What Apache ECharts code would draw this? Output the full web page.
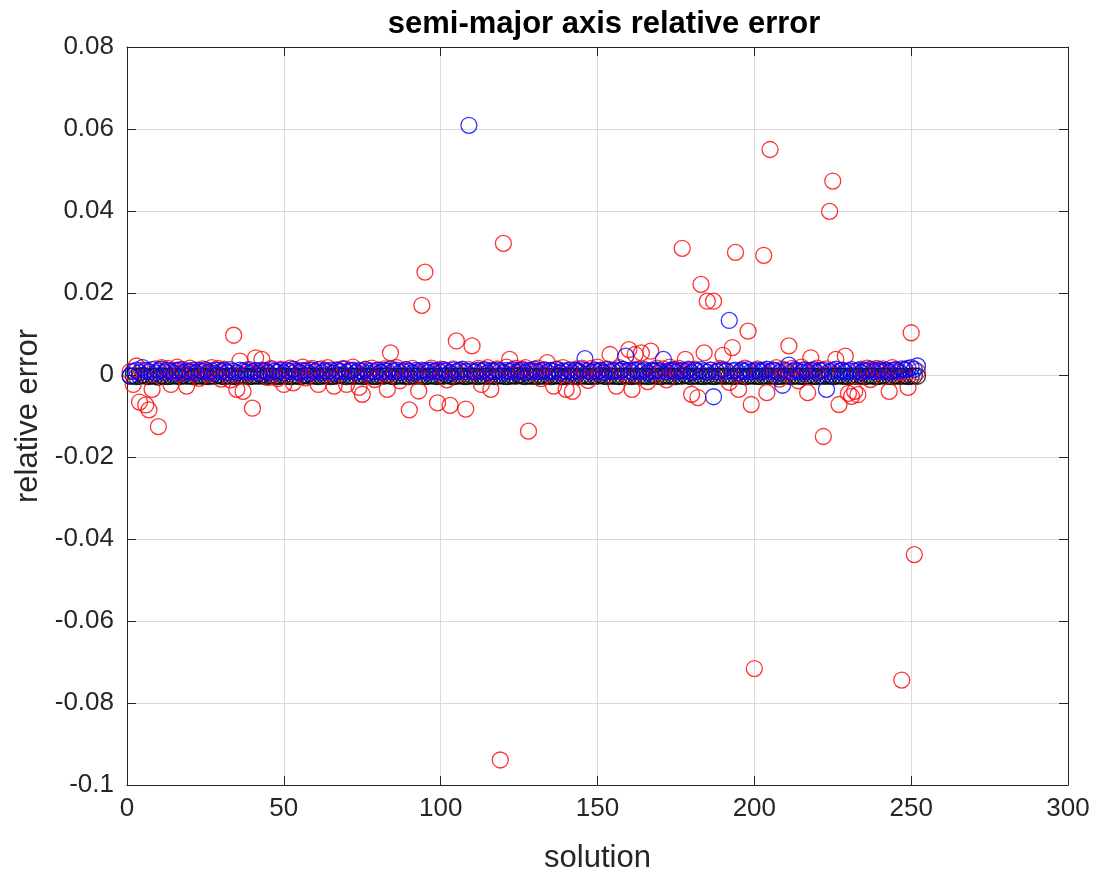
<!DOCTYPE html>
<html>
<head>
<meta charset="utf-8">
<title>semi-major axis relative error</title>
<script src="https://cdn.jsdelivr.net/npm/echarts@6/dist/echarts.min.js"></script>
<style>
  html, body { margin: 0; padding: 0; background: #ffffff; }
  #chart { width: 1101px; height: 874px; }
</style>
</head>
<body>
<div id="chart"></div>
<script>
// Relative error of the semi-major axis for each solution (1..252), three methods.
const redErr = [
  0.0008, -0.0023, 0.0022, -0.0066, 0.0012, -0.0073, -0.0085, -0.0035, 0.0015, -0.0126, 0.0018, 0.0009,
  0.0016, -0.0023, 0.0011, 0.0019, 0.0004, 0.0013, -0.0027, 0.0017, 0.0006, 0.0012, -0.0008, 0.0015,
  0.0010, 0.0003, 0.0018, 0.0012, 0.0016, -0.0010, 0.0014, 0.0007, -0.0012, 0.0097, -0.0035, 0.0034,
  -0.0040, 0.0012, 0.0005, -0.0081, 0.0042, 0.0009, 0.0038, 0.0011, -0.0006, 0.0016, 0.0008, -0.0009,
  0.0014, -0.0023, 0.0010, 0.0017, -0.0019, 0.0012, 0.0006, 0.0019, -0.0007, 0.0013, 0.0016, 0.0009,
  -0.0023, 0.0015, 0.0011, 0.0018, 0.0004, -0.0027, 0.0013, 0.0008, 0.0016, -0.0023, 0.0012, 0.0019,
  0.0007, -0.0030, -0.0047, 0.0014, 0.0010, 0.0017, -0.0011, 0.0012, 0.0006, 0.0015, -0.0035, 0.0054,
  0.0011, 0.0018, -0.0014, 0.0009, 0.0013, -0.0085, 0.0016, 0.0005, -0.0039, 0.0170, 0.0251, 0.0012,
  0.0017, 0.0008, -0.0068, 0.0014, 0.0010, -0.0012, -0.0074, 0.0015, 0.0083, 0.0011, 0.0006, -0.0083,
  0.0013, 0.0071, 0.0009, 0.0016, -0.0023, 0.0012, 0.0018, -0.0035, 0.0010, 0.0015, -0.0939, 0.0321,
  0.0019, 0.0038, 0.0011, 0.0016, 0.0007, 0.0014, 0.0018, -0.0137, 0.0012, 0.0009, 0.0017, -0.0009,
  0.0013, 0.0030, 0.0010, -0.0027, 0.0015, 0.0006, 0.0018, -0.0035, 0.0012, -0.0040, 0.0014, 0.0008,
  0.0017, 0.0011, -0.0013, 0.0016, 0.0009, 0.0019, 0.0012, 0.0005, 0.0015, 0.0050, 0.0010, -0.0027,
  0.0018, 0.0013, 0.0008, 0.0062, -0.0035, 0.0050, 0.0014, 0.0054, 0.0011, -0.0016, 0.0058, 0.0012,
  0.0017, 0.0007, 0.0015, -0.0012, 0.0019, 0.0010, 0.0013, 0.0016, 0.0309, 0.0038, 0.0011, -0.0047,
  0.0014, -0.0055, 0.0221, 0.0054, 0.0180, 0.0012, 0.0180, 0.0009, 0.0016, 0.0048, 0.0011, -0.0018,
  0.0067, 0.0299, -0.0035, 0.0013, 0.0017, 0.0107, -0.0072, -0.0716, 0.0015, 0.0010, 0.0292, -0.0043,
  0.0550, 0.0012, 0.0018, -0.0010, 0.0014, 0.0008, 0.0071, 0.0016, 0.0011, -0.0014, 0.0019, 0.0013,
  -0.0043, 0.0042, 0.0010, 0.0017, 0.0012, -0.0150, 0.0015, 0.0399, 0.0473, 0.0038, -0.0072, 0.0011,
  0.0046, -0.0045, -0.0052, -0.0040, -0.0048, 0.0014, 0.0009, 0.0017, -0.0011, 0.0013, 0.0016, 0.0008,
  0.0015, 0.0011, -0.0040, 0.0018, 0.0012, 0.0006, -0.0744, 0.0014, -0.0030, 0.0103, -0.0438, 0.0008
];

const blueErr = [
  -0.0002, 0.0009, 0.0012, 0.0006, 0.0018, 0.0011, 0.0008, 0.0013, 0.0005, 0.0010, 0.0014, 0.0007,
  0.0012, 0.0009, 0.0004, 0.0011, 0.0013, 0.0006, 0.0010, 0.0008, 0.0012, 0.0005, 0.0011, 0.0009,
  0.0013, 0.0007, 0.0010, 0.0004, 0.0012, 0.0008, 0.0011, 0.0006, 0.0013, 0.0009, 0.0005, 0.0012,
  0.0010, 0.0007, 0.0013, 0.0008, 0.0011, 0.0004, 0.0012, 0.0009, 0.0006, 0.0013, 0.0010, 0.0007,
  0.0011, 0.0005, 0.0012, 0.0008, 0.0014, 0.0009, 0.0006, 0.0011, 0.0010, 0.0004, 0.0012, 0.0008,
  0.0013, 0.0006, 0.0010, 0.0009, 0.0012, 0.0005, 0.0011, 0.0008, 0.0014, 0.0007, 0.0010, 0.0012,
  0.0006, 0.0011, 0.0009, 0.0013, 0.0004, 0.0010, 0.0008, 0.0012, 0.0007, 0.0011, 0.0009, 0.0015,
  0.0008, 0.0012, 0.0006, 0.0010, 0.0013, 0.0009, 0.0005, 0.0011, 0.0008, 0.0012, 0.0010, 0.0006,
  0.0012, 0.0009, 0.0011, 0.0007, 0.0013, 0.0010, 0.0005, 0.0012, 0.0008, 0.0011, 0.0014, 0.0009,
  0.0609, 0.0010, 0.0007, 0.0012, 0.0009, 0.0013, 0.0006, 0.0011, 0.0008, 0.0012, 0.0010, 0.0005,
  0.0011, 0.0009, 0.0013, 0.0007, 0.0010, 0.0012, 0.0006, 0.0011, 0.0009, 0.0014, 0.0008, 0.0010,
  0.0012, 0.0007, 0.0011, 0.0009, 0.0013, 0.0005, 0.0010, 0.0008, 0.0012, 0.0006, 0.0011, 0.0009,
  0.0013, 0.0040, 0.0010, 0.0007, 0.0012, 0.0009, 0.0011, 0.0006, 0.0013, 0.0008, 0.0010, 0.0012,
  0.0009, 0.0014, 0.0046, 0.0011, 0.0007, 0.0012, 0.0010, 0.0008, 0.0013, 0.0006, 0.0011, 0.0009,
  0.0012, 0.0010, 0.0038, 0.0008, 0.0011, 0.0013, 0.0007, 0.0010, 0.0012, 0.0009, 0.0014, 0.0006,
  0.0011, 0.0009, 0.0013, 0.0010, 0.0007, 0.0012, -0.0053, 0.0008, 0.0011, 0.0013, 0.0009, 0.0133,
  0.0010, 0.0012, 0.0006, 0.0011, 0.0009, 0.0013, 0.0008, 0.0010, 0.0012, 0.0007, 0.0011, 0.0014,
  0.0009, 0.0012, 0.0010, 0.0006, -0.0025, 0.0011, 0.0024, 0.0008, 0.0013, 0.0010, 0.0007, 0.0012,
  0.0009, 0.0011, 0.0013, 0.0006, 0.0010, 0.0012, -0.0035, 0.0008, 0.0011, 0.0014, 0.0009, 0.0012,
  0.0007, 0.0010, 0.0013, 0.0009, 0.0011, 0.0006, 0.0012, 0.0010, 0.0014, 0.0008, 0.0011, 0.0013,
  0.0009, 0.0012, 0.0007, 0.0011, 0.0013, 0.0010, 0.0015, 0.0012, 0.0016, 0.0018, 0.0014, 0.0022
];

const blackErr = [
  -0.0003, -0.0002, -0.0004, -0.0003, -0.0001, -0.0003, -0.0004, -0.0002, -0.0003, -0.0005, -0.0002, -0.0003,
  -0.0004, -0.0003, -0.0002, -0.0003, -0.0004, -0.0001, -0.0003, -0.0002, -0.0004, -0.0003, -0.0002, -0.0003,
  -0.0003, -0.0004, -0.0002, -0.0003, -0.0001, -0.0003, -0.0004, -0.0002, -0.0003, -0.0003, -0.0004, -0.0002,
  -0.0002, -0.0003, -0.0004, -0.0003, -0.0002, -0.0003, -0.0001, -0.0004, -0.0003, -0.0002, -0.0003, -0.0004,
  -0.0003, -0.0002, -0.0003, -0.0004, -0.0003, -0.0002, -0.0004, -0.0003, -0.0001, -0.0003, -0.0002, -0.0003,
  -0.0004, -0.0003, -0.0002, -0.0003, -0.0004, -0.0003, -0.0002, -0.0001, -0.0003, -0.0004, -0.0002, -0.0003,
  -0.0003, -0.0002, -0.0004, -0.0003, -0.0002, -0.0003, -0.0004, -0.0003, -0.0002, -0.0003, -0.0001, -0.0003,
  -0.0004, -0.0003, -0.0002, -0.0003, -0.0003, -0.0004, -0.0002, -0.0003, -0.0002, -0.0003, -0.0004, -0.0003,
  -0.0002, -0.0003, -0.0004, -0.0002, -0.0003, -0.0001, -0.0003, -0.0004, -0.0003, -0.0002, -0.0003, -0.0004,
  -0.0003, -0.0002, -0.0003, -0.0004, -0.0002, -0.0003, -0.0003, -0.0002, -0.0004, -0.0003, -0.0002, -0.0003,
  -0.0004, -0.0003, -0.0002, -0.0003, -0.0001, -0.0003, -0.0004, -0.0002, -0.0003, -0.0003, -0.0004, -0.0002,
  -0.0003, -0.0002, -0.0004, -0.0003, -0.0002, -0.0003, -0.0004, -0.0003, -0.0002, -0.0003, -0.0003, -0.0004,
  -0.0002, -0.0003, -0.0003, -0.0004, -0.0002, -0.0003, -0.0001, -0.0003, -0.0004, -0.0002, -0.0003, -0.0003,
  -0.0004, -0.0003, -0.0002, -0.0003, -0.0004, -0.0002, -0.0003, -0.0003, -0.0002, -0.0004, -0.0003, -0.0002,
  -0.0003, -0.0004, -0.0003, -0.0002, -0.0003, -0.0003, -0.0004, -0.0002, -0.0003, -0.0001, -0.0003, -0.0004,
  -0.0002, -0.0003, -0.0003, -0.0004, -0.0002, -0.0003, -0.0004, -0.0003, -0.0002, -0.0003, -0.0003, -0.0002,
  -0.0004, -0.0003, -0.0002, -0.0003, -0.0004, -0.0003, -0.0002, -0.0003, -0.0003, -0.0004, -0.0002, -0.0003,
  -0.0003, -0.0002, -0.0004, -0.0003, -0.0003, -0.0002, -0.0003, -0.0004, -0.0002, -0.0003, -0.0003, -0.0004,
  -0.0002, -0.0003, -0.0003, -0.0004, -0.0002, -0.0003, -0.0003, -0.0002, -0.0004, -0.0003, -0.0002, -0.0003,
  -0.0003, -0.0004, -0.0002, -0.0003, -0.0003, -0.0002, -0.0004, -0.0003, -0.0002, -0.0003, -0.0004, -0.0003,
  -0.0002, -0.0003, -0.0003, -0.0004, -0.0002, -0.0003, -0.0003, -0.0002, -0.0004, -0.0003, -0.0002, -0.0003
];

// Axis ranges and tick steps
const xRange = { min: 0, max: 300, step: 50 };
const yRange = { min: -0.1, max: 0.08, step: 0.02 };

const titleText = 'semi-major axis relative error';
const xName = 'solution';
const yName = 'relative error';

// Pair each value with its solution number (1-based)
const toPoints = arr => arr.map((v, i) => [i + 1, v]);

const axisColor = '#262626';
const gridColor = '#dadada';
const fontFamily = 'Liberation Sans, Arial, Helvetica, sans-serif';

const fmtY = v => {
  const r = Math.round(v * 100) / 100;
  return (Math.abs(r) < 1e-9 ? 0 : r).toString();
};

const ringSeries = (name, data, color) => ({
  name: name,
  type: 'scatter',
  data: toPoints(data),
  symbol: 'circle',
  symbolSize: 16,
  itemStyle: { color: 'rgba(0,0,0,0)', borderColor: color, borderWidth: 1.3 },
  emphasis: { disabled: true },
  animation: false
});

// Shared styling for the box edges (axis lines with inward ticks)
const edge = {
  show: true, onZero: false, lineStyle: { color: axisColor, width: 1 }
};
const tick = { show: true, inside: true, length: 9, lineStyle: { color: axisColor } };

const chart = echarts.init(document.getElementById('chart'), null, { renderer: 'canvas' });

chart.setOption({
  backgroundColor: '#ffffff',
  animation: false,
  title: {
    text: titleText,
    left: 599,
    textAlign: 'center',
    top: 4,
    textStyle: { fontFamily: fontFamily, fontSize: 31, fontWeight: 'bold', color: '#000000' }
  },
  grid: {
    left: 127, right: 33, top: 47, bottom: 89,
    outerBoundsMode: 'none',
    containLabel: false,
    show: false
  },
  xAxis: [
    {
      type: 'value', min: xRange.min, max: xRange.max, interval: xRange.step,
      name: xName, nameLocation: 'middle', nameGap: 58,
      nameTextStyle: { fontFamily: fontFamily, fontSize: 31, color: axisColor },
      axisLine: edge,
      axisTick: tick,
      axisLabel: { fontFamily: fontFamily, fontSize: 26, color: axisColor, margin: 11 },
      splitLine: { show: true, lineStyle: { color: gridColor, width: 1 } }
    },
    {
      type: 'value', position: 'top', min: xRange.min, max: xRange.max, interval: xRange.step,
      axisLine: edge,
      axisTick: tick,
      axisLabel: { show: false },
      splitLine: { show: false }
    }
  ],
  yAxis: [
    {
      type: 'value', min: yRange.min, max: yRange.max, interval: yRange.step,
      name: yName, nameLocation: 'middle', nameGap: 81, nameRotate: 90,
      nameTextStyle: { fontFamily: fontFamily, fontSize: 31, color: axisColor },
      axisLine: edge,
      axisTick: tick,
      axisLabel: { fontFamily: fontFamily, fontSize: 26, color: axisColor, margin: 13, formatter: fmtY },
      splitLine: { show: true, lineStyle: { color: gridColor, width: 1 } }
    },
    {
      type: 'value', position: 'right', min: yRange.min, max: yRange.max, interval: yRange.step,
      axisLine: edge,
      axisTick: tick,
      axisLabel: { show: false },
      splitLine: { show: false }
    }
  ],
  series: [
    ringSeries('black', blackErr, '#000000'),
    ringSeries('red', redErr, '#ff0000'),
    ringSeries('blue', blueErr, '#0000ff')
  ]
});
</script>
</body>
</html>
